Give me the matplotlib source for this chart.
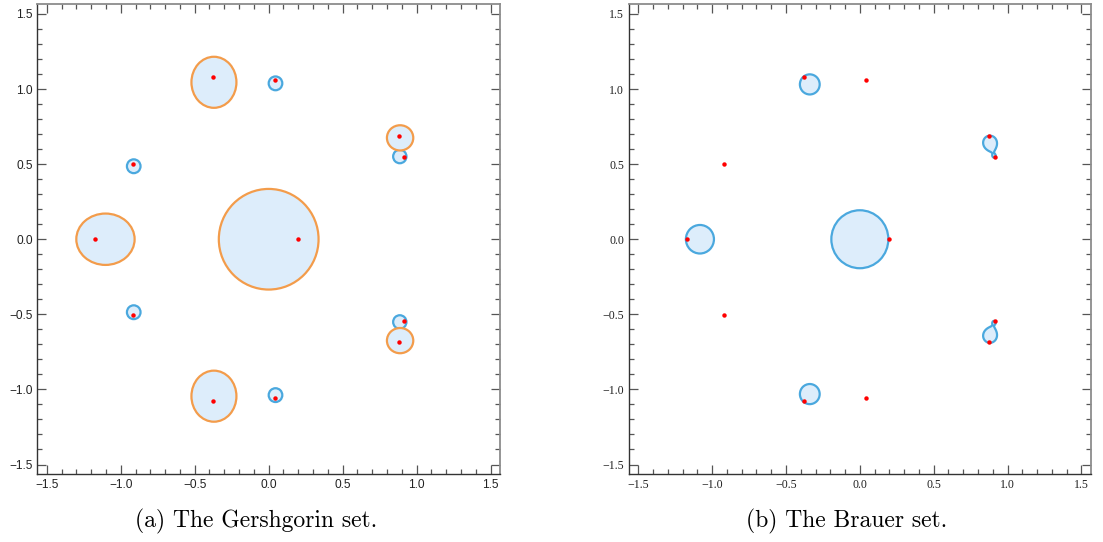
import numpy as np
import matplotlib
matplotlib.use("Agg")
import matplotlib.pyplot as plt
from matplotlib.patches import Ellipse, Circle
from matplotlib.ticker import MultipleLocator, FuncFormatter

# Eigenvalues (real, imaginary parts)
eig_re = [0.199, -1.171, -0.375, -0.375, 0.042, 0.042, 0.878, 0.878, 0.916, 0.916, -0.918, -0.918]
eig_im = [0.0, 0.0, 1.079, -1.079, 1.057, -1.057, 0.686, -0.686, 0.547, -0.547, 0.503, -0.503]

# Gershgorin regions: centre x, centre y, half-width, half-height
gersh_orange_cx = [0.0, -1.103, -0.370, -0.370, 0.888, 0.888]
gersh_orange_cy = [0.0, 0.0, 1.045, -1.045, 0.675, -0.675]
gersh_orange_rx = [0.337, 0.197, 0.152, 0.152, 0.089, 0.089]
gersh_orange_ry = [0.335, 0.171, 0.170, 0.170, 0.084, 0.084]

gersh_blue_cx = [-0.912, -0.912, 0.046, 0.046, 0.886, 0.886]
gersh_blue_cy = [0.486, -0.486, 1.038, -1.038, 0.551, -0.551]
gersh_blue_r = [0.046, 0.046, 0.046, 0.046, 0.045, 0.045]

# Brauer set: round components
brauer_cx = [0.0, -1.083, -0.339, -0.339]
brauer_cy = [0.0, 0.0, 1.031, -1.031]
brauer_r = [0.193, 0.095, 0.067, 0.067]

# Brauer set: weighted Cassini ovals |z-a|^wa |z-b|^wb <= level
oval_a = [(0.880, 0.647), (0.880, -0.647)]
oval_b = [(0.910, 0.552), (0.910, -0.552)]
oval_wa = [0.75, 0.75]
oval_wb = [0.25, 0.25]
oval_level = [0.0575, 0.0575]

ticks_major = [-1.5, -1.0, -0.5, 0.0, 0.5, 1.0, 1.5]
lim = 1.563

FILL = "#ddedfb"
BLUE = "#4aa8de"
ORANGE = "#f39c4b"
DOT = "#ff0000"
LW = 1.6

fig = plt.figure(figsize=(11.03, 5.42), dpi=100)
ax1 = fig.add_axes([0.0339, 0.1255, 0.4194, 0.8662])
ax2 = fig.add_axes([0.5703, 0.1255, 0.4185, 0.8662])


def fmt(v, pos):
    v = round(v, 1) + 0.0
    return f"{v:.1f}".replace("-", "\u2212")


def style(ax, family):
    ax.set_xlim(-lim, lim)
    ax.set_ylim(-lim, lim)
    ax.set_xticks(ticks_major)
    ax.set_yticks(ticks_major)
    ax.xaxis.set_minor_locator(MultipleLocator(0.1))
    ax.yaxis.set_minor_locator(MultipleLocator(0.1))
    ax.xaxis.set_major_formatter(FuncFormatter(fmt))
    ax.yaxis.set_major_formatter(FuncFormatter(fmt))
    ax.tick_params(which="both", direction="in", top=True, right=True,
                   labeltop=False, labelright=False, color="#555555", width=0.9)
    ax.tick_params(which="major", length=6.5, pad=3.5, labelsize=8.6,
                   labelcolor="#222222", labelfontfamily=family)
    ax.tick_params(which="minor", length=3.5)
    for side in ("left", "bottom"):
        ax.spines[side].set_color("#333333")
        ax.spines[side].set_linewidth(1.0)
    for side in ("top", "right"):
        ax.spines[side].set_color("#8c8c8c")
        ax.spines[side].set_linewidth(1.3)


# (a) Gershgorin set
for cx, cy, r in zip(gersh_blue_cx, gersh_blue_cy, gersh_blue_r):
    ax1.add_patch(Circle((cx, cy), r, facecolor=FILL, edgecolor=BLUE, lw=LW, zorder=2))
for cx, cy, rx, ry in zip(gersh_orange_cx, gersh_orange_cy, gersh_orange_rx, gersh_orange_ry):
    ax1.add_patch(Ellipse((cx, cy), 2 * rx, 2 * ry, facecolor=FILL, edgecolor=ORANGE,
                          lw=LW, zorder=3))
ax1.plot(eig_re, eig_im, "o", color=DOT, ms=3.2, mew=0, zorder=5)
style(ax1, "Liberation Sans")

# (b) Brauer set
for cx, cy, r in zip(brauer_cx, brauer_cy, brauer_r):
    ax2.add_patch(Circle((cx, cy), r, facecolor=FILL, edgecolor=BLUE, lw=LW, zorder=2))

for a, b, wa, wb, lev in zip(oval_a, oval_b, oval_wa, oval_wb, oval_level):
    mx = 0.5 * (a[0] + b[0])
    my = 0.5 * (a[1] + b[1])
    gx = np.linspace(mx - 0.13, mx + 0.13, 500)
    gy = np.linspace(my - 0.13, my + 0.13, 500)
    X, Y = np.meshgrid(gx, gy)
    F = np.hypot(X - a[0], Y - a[1]) ** wa * np.hypot(X - b[0], Y - b[1]) ** wb
    ax2.contourf(X, Y, F, levels=[0, lev], colors=[FILL], zorder=2)
    ax2.contour(X, Y, F, levels=[lev], colors=[BLUE], linewidths=LW, zorder=3)

ax2.plot(eig_re, eig_im, "o", color=DOT, ms=3.2, mew=0, zorder=5)
style(ax2, "Liberation Serif")

fig.text(0.232, 0.037, "(a) The Gershgorin set.", family="cmr10", fontsize=17,
         ha="center", va="center")
fig.text(0.768, 0.037, "(b) The Brauer set.", family="cmr10", fontsize=17,
         ha="center", va="center")

fig.savefig("out.png", dpi=100)
